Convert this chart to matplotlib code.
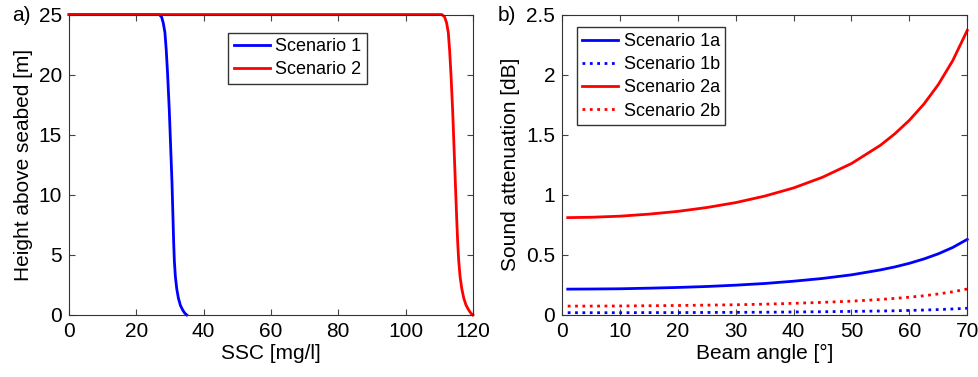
import numpy as np
import matplotlib
matplotlib.use("Agg")
from matplotlib import pyplot as plt

plt.rcParams['font.family'] = ['Liberation Sans', 'DejaVu Sans']
plt.rcParams['font.size'] = 15

# panel a) SSC profiles
h1 = [25, 25, 24.8, 24.3, 23.5, 22, 20, 17, 14, 11, 8, 6, 4.5, 3.2, 2.2, 1.4, 0.8, 0.4, 0.15, 0]
ssc1 = [0, 26.8, 27.5, 28.0, 28.5, 28.9, 29.3, 29.8, 30.2, 30.6, 30.9, 31.1, 31.3, 31.6,
        32.0, 32.5, 33.1, 33.8, 34.4, 35]
h2 = [25, 25, 24.8, 24.3, 23.5, 22, 20, 17, 14, 11, 8, 6, 4.5, 3.2, 2.2, 1.4, 0.8, 0.4, 0.15, 0]
ssc2 = [0, 110.8, 111.6, 112.2, 112.7, 113.1, 113.5, 114.0, 114.4, 114.8, 115.2, 115.5,
        115.8, 116.2, 116.7, 117.3, 118.0, 118.8, 119.4, 120]

# panel b) attenuation vs beam angle
angle = [1, 5, 10, 15, 20, 25, 30, 35, 40, 45, 50, 55, 57.5, 60, 62.5, 65, 67.5, 70]
att_1a = [0.215, 0.216, 0.218, 0.223, 0.229, 0.237, 0.248, 0.262, 0.281, 0.304, 0.334,
          0.375, 0.400, 0.430, 0.466, 0.509, 0.562, 0.629]
att_1b = [0.019, 0.019, 0.019, 0.020, 0.020, 0.021, 0.022, 0.023, 0.025, 0.027, 0.030,
          0.033, 0.035, 0.038, 0.041, 0.045, 0.050, 0.056]
att_2a = [0.81, 0.813, 0.822, 0.839, 0.862, 0.894, 0.935, 0.989, 1.057, 1.146, 1.260,
          1.412, 1.508, 1.620, 1.754, 1.917, 2.117, 2.368]
att_2b = [0.074, 0.074, 0.075, 0.077, 0.079, 0.082, 0.085, 0.090, 0.097, 0.105, 0.115,
          0.129, 0.138, 0.148, 0.160, 0.175, 0.193, 0.216]

fig = plt.figure(figsize=(9.79, 3.77), dpi=100)
ax1 = fig.add_axes([0.0705, 0.1645, 0.4125, 0.797])
ax2 = fig.add_axes([0.574, 0.1645, 0.414, 0.797])

leg_kw = dict(loc='upper left', fancybox=False, edgecolor='#333333', fontsize=13,
              handlelength=2.0, borderpad=0.3, labelspacing=0.35, handletextpad=0.3,
              borderaxespad=0, framealpha=1)

ax1.plot(ssc1, h1, color='#0000ff', lw=2, label='Scenario 1', clip_on=False)
ax1.plot(ssc2, h2, color='#ff0000', lw=2, label='Scenario 2', clip_on=False)
ax1.set_xlim(0, 120)
ax1.set_ylim(0, 25)
ax1.set_xticks(np.arange(0, 121, 20))
ax1.set_yticks(np.arange(0, 26, 5))
ax1.set_xlabel('SSC [mg/l]', labelpad=2)
ax1.set_ylabel('Height above seabed [m]', labelpad=4)
ax1.legend(bbox_to_anchor=(0.394, 0.94), **leg_kw)

ax2.plot(angle, att_1a, color='#0000ff', lw=2, label='Scenario 1a', clip_on=False)
ax2.plot(angle, att_1b, color='#0000ff', lw=2, ls=':', label='Scenario 1b', clip_on=False)
ax2.plot(angle, att_2a, color='#ff0000', lw=2, label='Scenario 2a', clip_on=False)
ax2.plot(angle, att_2b, color='#ff0000', lw=2, ls=':', label='Scenario 2b', clip_on=False)
ax2.set_xlim(0, 70)
ax2.set_ylim(0, 2.5)
ax2.set_xticks(np.arange(0, 71, 10))
ax2.set_yticks([0, 0.5, 1, 1.5, 2, 2.5])
ax2.set_yticklabels(['0', '0.5', '1', '1.5', '2', '2.5'])
ax2.set_xlabel('Beam angle [°]', labelpad=2)
ax2.set_ylabel('Sound attenuation [dB]', labelpad=4)
ax2.legend(bbox_to_anchor=(0.037, 0.957), **leg_kw)

for ax in (ax1, ax2):
    ax.tick_params(direction='in', top=True, right=True, length=4, color='#444444', pad=5)
    for s in ax.spines.values():
        s.set_color('#333333')
        s.set_linewidth(0.8)

fig.text(0.012, 0.96, 'a)', fontsize=15, va='center')
fig.text(0.508, 0.96, 'b)', fontsize=15, va='center')

fig.savefig('out.png', dpi=100)
